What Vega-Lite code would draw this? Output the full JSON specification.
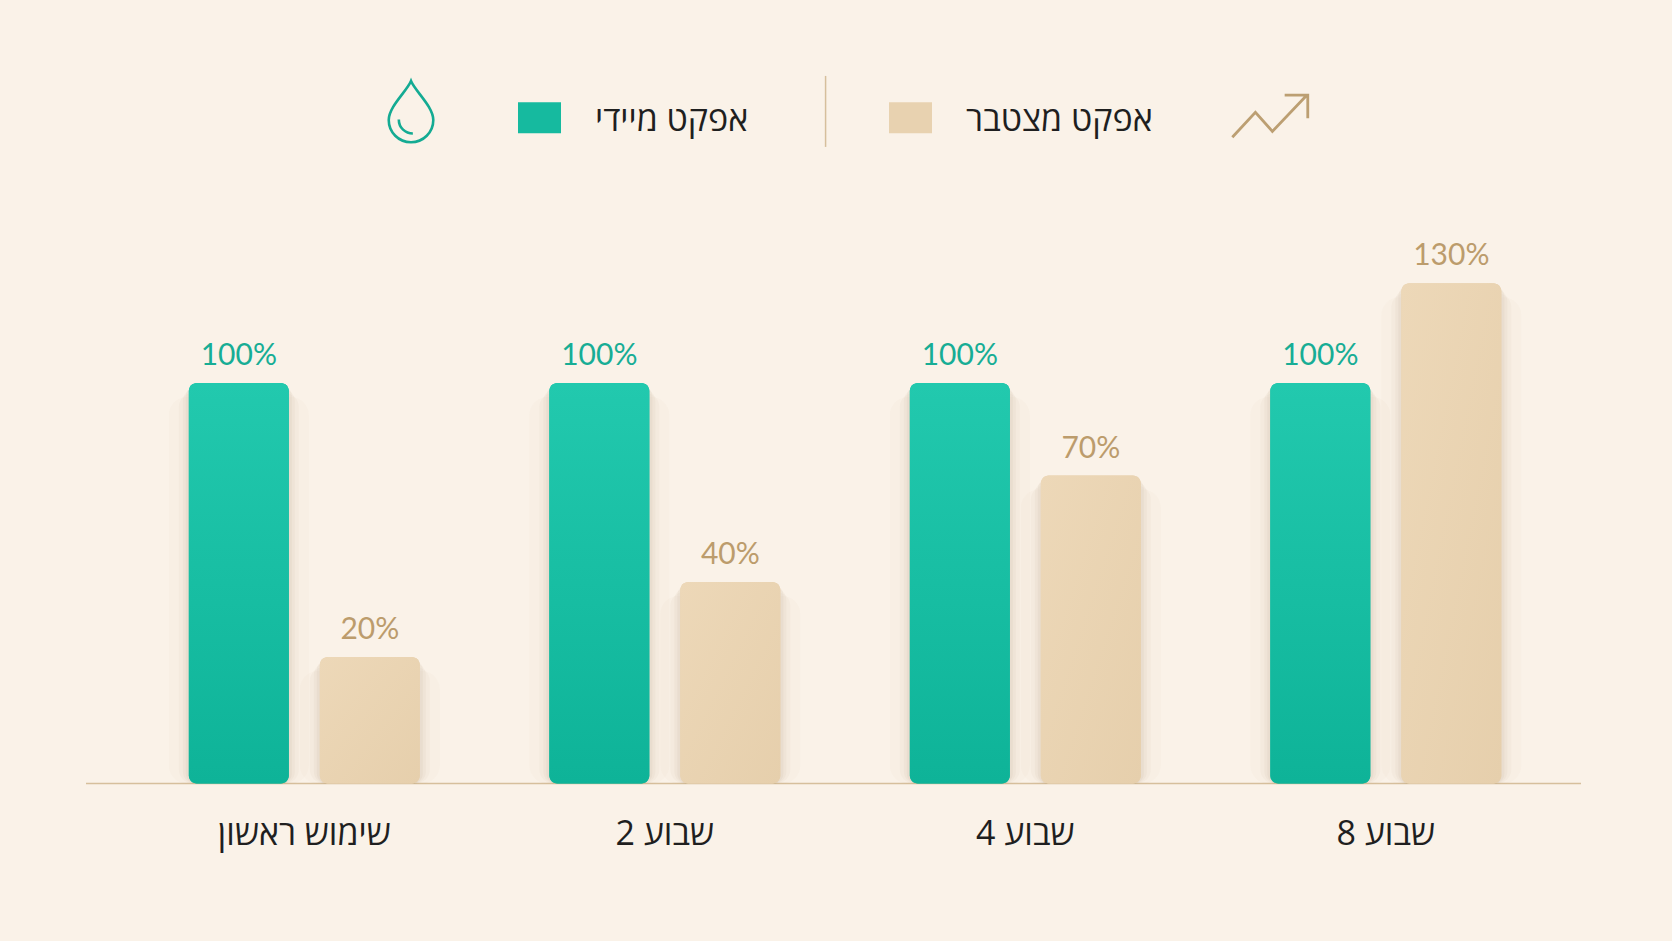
{
  "$schema": "https://vega.github.io/schema/vega-lite/v6.json",
  "description": "Immediate and cumulative effect by week",
  "width": 1495,
  "height": 783.5,
  "autosize": "none",
  "padding": {"left": 86, "top": 0, "right": 91, "bottom": 157.5},
  "background": "#FAF2E8",
  "data": {
    "values": [
      {"week": "שימוש ראשון", "series": "אפקט מיידי", "value": 100, "label": "100%"},
      {"week": "שימוש ראשון", "series": "אפקט מצטבר", "value": 20, "label": "20%"},
      {"week": "שבוע 2", "series": "אפקט מיידי", "value": 100, "label": "100%"},
      {"week": "שבוע 2", "series": "אפקט מצטבר", "value": 40, "label": "40%"},
      {"week": "שבוע 4", "series": "אפקט מיידי", "value": 100, "label": "100%"},
      {"week": "שבוע 4", "series": "אפקט מצטבר", "value": 70, "label": "70%"},
      {"week": "שבוע 8", "series": "אפקט מיידי", "value": 100, "label": "100%"},
      {"week": "שבוע 8", "series": "אפקט מצטבר", "value": 130, "label": "130%"}
    ]
  },
  "layer": [
    {
      "data": {"values": [{"line": "baseline"}]},
      "mark": {"type": "rule", "color": "#D6BF9C", "strokeWidth": 1.5},
      "encoding": {
        "y": {"datum": 0, "type": "quantitative", "scale": {"domain": [0, 1], "nice": false, "zero": false}, "axis": null}
      }
    },
    {
      "encoding": {
        "x": {
          "field": "week",
          "type": "nominal",
          "sort": null,
          "title": null,
          "scale": {"range": [38, 1480], "paddingInner": 0, "paddingOuter": 0},
          "axis": {
            "domain": false,
            "ticks": false,
            "labelAngle": 0,
            "labelFont": "Open Sans",
            "labelFontSize": 34,
            "labelColor": "#1F1F1F",
            "labelBaseline": "alphabetic",
            "labelPadding": 61,
            "labelLimit": 400
          }
        },
        "xOffset": {
          "field": "series",
          "type": "nominal",
          "sort": null,
          "scale": {"range": [64.83, 295.83], "paddingInner": 0.2366, "paddingOuter": 0}
        },
        "y": {
          "field": "value",
          "type": "quantitative",
          "stack": null,
          "title": null,
          "axis": null,
          "scale": {
            "domain": [0, 20, 40, 70, 100, 130],
            "range": [783.5, 657, 582, 475.6, 383, 283.3],
            "nice": false
          }
        }
      },
      "layer": [
        {
          "mark": {"type": "bar", "color": "#8A6A3C", "opacity": 0.02, "width": 140, "xOffset": 24, "y2Offset": 28, "yOffset": 14, "cornerRadius": 18}
        },
        {
          "mark": {"type": "bar", "color": "#8A6A3C", "opacity": 0.03, "width": 120, "xOffset": 14, "y2Offset": 20, "yOffset": 10, "cornerRadius": 14}
        },
        {
          "mark": {"type": "bar", "color": "#8A6A3C", "opacity": 0.04, "width": 112, "xOffset": 10, "y2Offset": 13, "yOffset": 6, "cornerRadius": 12}
        },
        {
          "mark": {"type": "bar", "color": "#8A6A3C", "opacity": 0.05, "width": 106, "xOffset": 6, "y2Offset": 6, "yOffset": 3, "cornerRadius": 10}
        },
        {
          "mark": {"type": "bar", "cornerRadius": 8},
          "encoding": {
            "fill": {
              "field": "series",
              "type": "nominal",
              "sort": null,
              "scale": {
                "domain": ["אפקט מיידי", "אפקט מצטבר"],
                "range": ["#16BA9F", "#E8D2B0"]
              },
              "legend": {
                "orient": "none",
                "legendX": 432,
                "legendY": 99,
                "direction": "horizontal",
                "title": null,
                "symbolType": "M-1,-0.86H1V0.58H-1Z",
                "symbolSize": 1849,
                "symbolStrokeWidth": 0,
                "symbolOpacity": 1,
                "labelFont": "Open Sans",
                "labelFontSize": 34,
                "labelColor": "#1F1F1F",
                "labelOffset": 34,
                "labelLimit": 400,
                "columnPadding": 140
              }
            }
          }
        },
        {
          "transform": [{"filter": "datum.series === 'אפקט מיידי'"}],
          "mark": {
            "type": "bar",
            "cornerRadius": 8,
            "color": {"gradient": "linear", "x1": 0, "y1": 0, "x2": 0, "y2": 1, "stops": [{"offset": 0, "color": "#22C9AE"}, {"offset": 1, "color": "#0EB398"}]}
          }
        },
        {
          "transform": [{"filter": "datum.series === 'אפקט מצטבר'"}],
          "mark": {
            "type": "bar",
            "cornerRadius": 8,
            "color": {"gradient": "linear", "x1": 0, "y1": 0, "x2": 1, "y2": 1, "stops": [{"offset": 0, "color": "#EDD8B8"}, {"offset": 1, "color": "#E6CFAC"}]}
          }
        },
        {
          "mark": {"type": "text", "font": "Lato", "fontWeight": 400, "fontSize": 30, "baseline": "alphabetic", "dy": -18},
          "encoding": {
            "text": {"field": "label", "type": "nominal"},
            "color": {
              "field": "series",
              "type": "nominal",
              "sort": null,
              "legend": null,
              "scale": {"domain": ["אפקט מיידי", "אפקט מצטבר"], "range": ["#17AD95", "#BC9C6C"]}
            }
          }
        }
      ]
    },
    {
      "data": {"values": [{"icon": "drop"}]},
      "mark": {
        "type": "point",
        "filled": false,
        "opacity": 1,
        "shape": "M0,-0.5C0.07,-0.33 0.365,-0.08 0.365,0.14A0.365,0.365 0 1 1 -0.365,0.14C-0.365,-0.08 -0.07,-0.33 0,-0.5ZM-0.2,0.13C-0.2,0.27 -0.09,0.36 0.03,0.36",
        "size": 14900,
        "color": "#14AB93",
        "strokeWidth": 2.6
      },
      "encoding": {
        "x": {"datum": 0.2174, "type": "quantitative", "scale": {"domain": [0, 1], "nice": false, "zero": false}, "axis": null},
        "y": {"datum": 0.8577, "type": "quantitative", "scale": {"domain": [0, 1], "nice": false, "zero": false}, "axis": null}
      }
    },
    {
      "data": {"values": [{"icon": "divider"}]},
      "mark": {
        "type": "point",
        "filled": false,
        "opacity": 1,
        "shape": "M0,-0.5V0.5",
        "size": 20164,
        "color": "#D6BF9C",
        "strokeWidth": 1.5
      },
      "encoding": {
        "x": {"datum": 0.4947, "type": "quantitative", "scale": {"domain": [0, 1], "nice": false, "zero": false}, "axis": null},
        "y": {"datum": 0.8578, "type": "quantitative", "scale": {"domain": [0, 1], "nice": false, "zero": false}, "axis": null}
      }
    },
    {
      "data": {"values": [{"icon": "trend"}]},
      "mark": {
        "type": "point",
        "filled": false,
        "opacity": 1,
        "shape": "M-0.49,0.277L-0.19,-0.047L0.03,0.2L0.477,-0.27M0.19,-0.27L0.49,-0.27L0.49,0.03",
        "size": 23716,
        "color": "#BC9F72",
        "strokeWidth": 2.8
      },
      "encoding": {
        "x": {"datum": 0.792, "type": "quantitative", "scale": {"domain": [0, 1], "nice": false, "zero": false}, "axis": null},
        "y": {"datum": 0.852, "type": "quantitative", "scale": {"domain": [0, 1], "nice": false, "zero": false}, "axis": null}
      }
    }
  ],
  "resolve": {"scale": {"x": "independent", "y": "independent"}},
  "config": {"view": {"stroke": null}}
}
